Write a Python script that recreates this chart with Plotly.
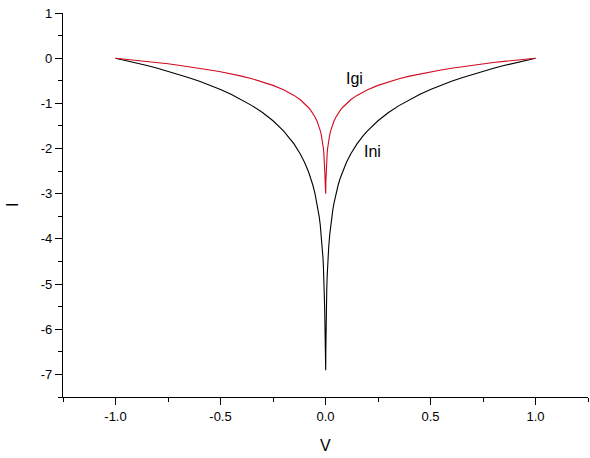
import plotly.graph_objects as go

# Right-half sample voltages (mirrored for the left half)
V_right = [1.0, 0.95, 0.9, 0.85, 0.8, 0.75, 0.7, 0.65, 0.6, 0.55, 0.5, 0.45, 0.4, 0.35,
           0.3, 0.25, 0.2, 0.18, 0.15, 0.12, 0.1, 0.08, 0.07, 0.06, 0.05, 0.04, 0.035,
           0.03, 0.025, 0.02, 0.015, 0.012, 0.01, 0.008, 0.006, 0.005, 0.004, 0.003,
           0.0025, 0.002, 0.0015, 0.0012, 0.001]
Ini_right = [0.0, -0.051, -0.105, -0.163, -0.223, -0.288, -0.357, -0.431, -0.511, -0.598,
             -0.693, -0.799, -0.916, -1.050, -1.204, -1.386, -1.609, -1.715, -1.897,
             -2.120, -2.303, -2.526, -2.659, -2.813, -2.996, -3.219, -3.352, -3.507,
             -3.689, -3.912, -4.200, -4.423, -4.605, -4.828, -5.116, -5.298, -5.521,
             -5.809, -5.991, -6.215, -6.502, -6.725, -6.908]
Igi_right = [0.0, -0.022, -0.046, -0.071, -0.097, -0.125, -0.155, -0.187, -0.222, -0.260,
             -0.301, -0.347, -0.398, -0.456, -0.523, -0.602, -0.699, -0.745, -0.824,
             -0.921, -1.000, -1.097, -1.155, -1.222, -1.301, -1.398, -1.456, -1.523,
             -1.602, -1.699, -1.824, -1.921, -2.000, -2.097, -2.222, -2.301, -2.398,
             -2.523, -2.602, -2.699, -2.824, -2.921, -3.000]

x_tickvals = [-1.0, -0.5, 0.0, 0.5, 1.0]
x_ticktext = ["-1.0", "-0.5", "0.0", "0.5", "1.0"]
y_tickvals = [1, 0, -1, -2, -3, -4, -5, -6, -7]
y_ticktext = ["1", "0", "-1", "-2", "-3", "-4", "-5", "-6", "-7"]

V_all = [-v for v in V_right] + V_right[::-1]
Ini_all = Ini_right + Ini_right[::-1]
Igi_all = Igi_right + Igi_right[::-1]

fig = go.Figure()
fig.add_trace(go.Scatter(x=V_all, y=Ini_all, mode="lines", name="Ini",
                         line=dict(color="black", width=1.1)))
fig.add_trace(go.Scatter(x=V_all, y=Igi_all, mode="lines", name="Igi",
                         line=dict(color="#d00a1e", width=1.1)))

font = "Liberation Sans, Arial, sans-serif"
fig.update_layout(
    width=590, height=458,
    margin=dict(l=63, r=2, t=13, b=61, autoexpand=False),
    paper_bgcolor="white", plot_bgcolor="white",
    showlegend=False,
    font=dict(family=font, size=13, color="black"),
    xaxis=dict(range=[-1.25, 1.25], tickvals=x_tickvals, ticktext=x_ticktext,
               automargin=False,
               showline=True, linecolor="black", linewidth=1.2,
               ticks="outside", ticklen=7, tickwidth=1.1, tickcolor="black",
               minor=dict(dtick=0.25, tick0=0, ticks="outside", ticklen=4,
                          tickcolor="black", tickwidth=1.1),
               showgrid=False, zeroline=False),
    yaxis=dict(range=[-7.5, 1.0], tickvals=y_tickvals, ticktext=y_ticktext,
               automargin=False,
               showline=True, linecolor="black", linewidth=1.2,
               ticks="outside", ticklen=7, tickwidth=1.1, tickcolor="black",
               minor=dict(dtick=0.5, tick0=0, ticks="outside", ticklen=4,
                          tickcolor="black", tickwidth=1.1),
               showgrid=False, zeroline=False),
    annotations=[
        dict(x=0.14, y=-0.46, xref="x", yref="y", text="Igi", showarrow=False,
             font=dict(size=16, family=font)),
        dict(x=0.225, y=-2.06, xref="x", yref="y", text="Ini", showarrow=False,
             font=dict(size=16, family=font)),
        dict(x=(325 - 63) / 525, y=(397 - 445) / 384, xref="paper", yref="paper",
             xanchor="center", yanchor="middle",
             text="V", showarrow=False, font=dict(size=16, family=font)),
        dict(x=(12 - 63) / 525, y=(397 - 205) / 384, xref="paper", yref="paper",
             xanchor="center", yanchor="middle",
             text="I", textangle=-90, showarrow=False, font=dict(size=16, family=font)),
    ],
)
fig.write_html("out.html", config={"displayModeBar": False},
               post_script="document.body.style.margin='0';document.body.style.overflow='hidden';")
